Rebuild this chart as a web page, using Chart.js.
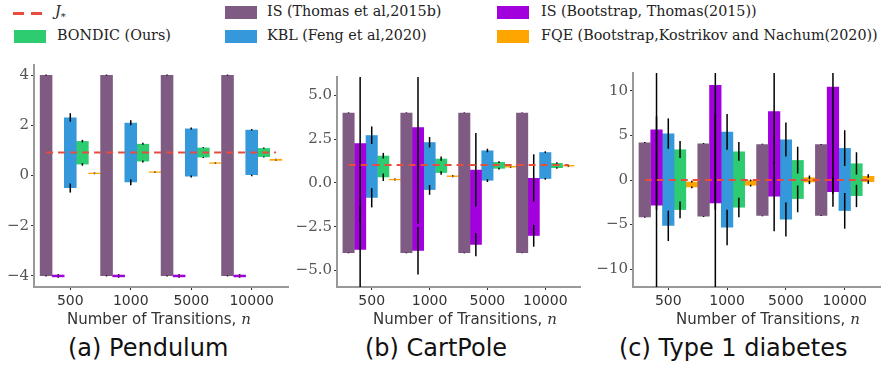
<!DOCTYPE html>
<html>
<head>
<meta charset="utf-8">
<script src="https://cdn.jsdelivr.net/npm/chart.js@4.4.1/dist/chart.umd.min.js"></script>
<style>
  body { margin: 0; background: #fff; }
  #page { position: relative; width: 881px; height: 365px; overflow: hidden; }
  .panel { position: absolute; top: 0; height: 312px; }
  .leg { position: absolute; font-family: "DejaVu Serif", serif; font-size: 14.3px; color: #222; white-space: nowrap; }
  .sw { position: absolute; width: 32px; height: 13px; }
  .dash { position: absolute; width: 11px; height: 3px; background: #e74c3c; }
  .xtitle { position: absolute; top: 310px; font-family: "DejaVu Sans", sans-serif; font-size: 15px; color: #333; white-space: nowrap; }
  .xtitle i { font-family: "DejaVu Serif", serif; }
  .cap { position: absolute; top: 334px; font-family: "DejaVu Sans", sans-serif; font-size: 24px; color: #111; white-space: nowrap; }
</style>
</head>
<body>
<div id="page">
  <!-- legend -->
  <div class="dash" style="left:13px;top:12px"></div>
  <div class="dash" style="left:31px;top:12px"></div>
  <div class="leg" style="left:55px;top:3px"><i>J</i><sub style="font-size:10px">*</sub></div>
  <div class="sw" style="left:14px;top:30px;background:#2ecc71"></div>
  <div class="leg" style="left:57px;top:27px">BONDIC (Ours)</div>

  <div class="sw" style="left:225px;top:6px;background:#7f5b83"></div>
  <div class="leg" style="left:267px;top:3px">IS (Thomas et al,2015b)</div>
  <div class="sw" style="left:225px;top:30px;background:#3498db"></div>
  <div class="leg" style="left:267px;top:27px">KBL (Feng et al,2020)</div>

  <div class="sw" style="left:497px;top:6px;background:#a200dd"></div>
  <div class="leg" style="left:541px;top:3px">IS (Bootstrap, Thomas(2015))</div>
  <div class="sw" style="left:497px;top:30px;background:#ffa500"></div>
  <div class="leg" style="left:541px;top:27px">FQE (Bootstrap,Kostrikov and Nachum(2020))</div>

  <div class="panel" style="left:0;width:295px"><canvas id="pendulum"></canvas></div>
  <div class="panel" style="left:290px;width:295px"><canvas id="cartpole"></canvas></div>
  <div class="panel" style="left:585px;width:296px"><canvas id="diabetes"></canvas></div>

  <div class="xtitle" style="left:67px">Number of Transitions, <i>n</i></div>
  <div class="xtitle" style="left:373px">Number of Transitions, <i>n</i></div>
  <div class="xtitle" style="left:676px">Number of Transitions, <i>n</i></div>

  <div class="cap" style="left:68px">(a) Pendulum</div>
  <div class="cap" style="left:365px">(b) CartPole</div>
  <div class="cap" style="left:619px">(c) Type 1 diabetes</div>
</div>

<script>
const categories = ['500', '1000', '5000', '10000'];
const seriesLabels = ['IS (Thomas et al,2015b)', 'IS (Bootstrap, Thomas(2015))', 'KBL (Feng et al,2020)', 'BONDIC (Ours)', 'FQE (Bootstrap,Kostrikov and Nachum(2020))'];
const seriesColors = ['#7f5b83', '#a200dd', '#3498db', '#2ecc71', '#ffa500'];
const jStarColor = '#e74c3c';

// each bar is [low, high]; each error entry is [half-width at low end, half-width at high end]
// (a) Pendulum
const pendulumTicks = [-4, -2, 0, 2, 4];
const pendulumJ = 0.92;
const pendulumIS = [[-4, 4], [-4, 4], [-4, 4], [-4, 4]];
const pendulumISErr = [[0.02, 0.02], [0.02, 0.02], [0.02, 0.02], [0.02, 0.02]];
const pendulumISBoot = [[-4.05, -3.95], [-4.05, -3.95], [-4.05, -3.95], [-4.05, -3.95]];
const pendulumISBootErr = [[0.02, 0.02], [0.02, 0.02], [0.02, 0.02], [0.02, 0.02]];
const pendulumKBL = [[-0.50, 2.31], [-0.27, 2.10], [-0.04, 1.87], [0.0, 1.82]];
const pendulumKBLErr = [[0.18, 0.17], [0.12, 0.1], [0.04, 0.04], [0.03, 0.03]];
const pendulumBONDIC = [[0.44, 1.37], [0.56, 1.26], [0.72, 1.11], [0.74, 1.09]];
const pendulumBONDICErr = [[0.05, 0.05], [0.04, 0.04], [0.02, 0.02], [0.02, 0.02]];
const pendulumFQE = [[0.06, 0.11], [0.11, 0.16], [0.47, 0.52], [0.59, 0.66]];
const pendulumFQEErr = [[0.01, 0.01], [0.01, 0.01], [0.01, 0.01], [0.01, 0.01]];

// (b) CartPole
const cartpoleTicks = [-5, -2.5, 0, 2.5, 5];
const cartpoleJ = 1.02;
const cartpoleIS = [[-4, 4], [-4, 4], [-4, 4], [-4, 4]];
const cartpoleISErr = [[0.02, 0.02], [0.02, 0.02], [0.02, 0.02], [0.02, 0.02]];
const cartpoleISBoot = [[-3.81, 2.26], [-3.87, 3.17], [-3.53, 0.75], [-3.02, 0.28]];
const cartpoleISBootErr = [[2.5, 4.5], [1.35, 5.5], [0.65, 2.1], [0.62, 1.35]];
const cartpoleKBL = [[-0.85, 2.72], [-0.40, 2.32], [0.13, 1.85], [0.23, 1.75]];
const cartpoleKBLErr = [[0.55, 0.5], [0.28, 0.3], [0.08, 0.1], [0.05, 0.05]];
const cartpoleBONDIC = [[0.32, 1.55], [0.57, 1.38], [0.81, 1.19], [0.85, 1.13]];
const cartpoleBONDICErr = [[0.21, 0.16], [0.1, 0.12], [0.05, 0.05], [0.04, 0.04]];
const cartpoleFQE = [[0.15, 0.23], [0.34, 0.42], [0.88, 0.97], [0.94, 1.02]];
const cartpoleFQEErr = [[0.02, 0.02], [0.02, 0.02], [0.02, 0.02], [0.02, 0.02]];

// (c) Type 1 diabetes
const diabetesTicks = [-10, -5, 0, 5, 10];
const diabetesJ = 0.0;
const diabetesIS = [[-4.17, 4.21], [-4.1, 4.1], [-4.02, 4.02], [-4.0, 4.0]];
const diabetesISErr = [[0.05, 0.05], [0.05, 0.05], [0.05, 0.05], [0.05, 0.05]];
const diabetesISBoot = [[-2.87, 5.66], [-2.6, 10.65], [-1.86, 7.71], [-1.34, 10.47]];
const diabetesISBootErr = [[10, 9], [10, 14], [3.9, 6], [1.65, 12]];
const diabetesKBL = [[-5.14, 5.21], [-5.33, 5.4], [-4.43, 4.54], [-3.46, 3.58]];
const diabetesKBLErr = [[1.7, 1.7], [2, 2], [1.9, 1.9], [2, 2]];
const diabetesBONDIC = [[-3.35, 3.43], [-3.09, 3.2], [-2.12, 2.23], [-1.79, 1.86]];
const diabetesBONDICErr = [[0.95, 0.95], [1.1, 1.05], [1.5, 1.5], [1.25, 1.25]];
const diabetesFQE = [[-0.82, -0.19], [-0.63, -0.05], [-0.26, 0.3], [-0.22, 0.45]];
const diabetesFQEErr = [[0.1, 0.1], [0.1, 0.1], [0.2, 0.2], [0.2, 0.2]];

// draws the black error lines at both ends of every bar
const errorBars = {
    id: 'errorBars',
    afterDatasetDraw(chart, args) {
        const ds = chart.data.datasets[args.index];
        if (!ds.err) return;
        const y = chart.scales.y;
        const area = chart.chartArea;
        const ctx = chart.ctx;
        ctx.save();
        ctx.beginPath();
        ctx.rect(area.left, area.top, area.right - area.left, area.bottom - area.top);
        ctx.clip();
        ctx.strokeStyle = '#000';
        ctx.lineWidth = 1.5;
        args.meta.data.forEach((bar, i) => {
            const [lo, hi] = ds.data[i].y;
            const [eLo, eHi] = ds.err[i];
            [[lo, eLo], [hi, eHi]].forEach(([v, e]) => {
                ctx.beginPath();
                ctx.moveTo(bar.x, y.getPixelForValue(v - e));
                ctx.lineTo(bar.x, y.getPixelForValue(v + e));
                ctx.stroke();
            });
        });
        ctx.restore();
    }
};

function fmtMinus(s) {
    return s.replace('-', '\u2212');
}

function makeChart(id, cfg) {
    const barSets = cfg.series.map((rows, k) => ({
        type: 'bar',
        label: seriesLabels[k],
        data: rows.map((r, i) => ({ x: i, y: r })),
        err: cfg.errors[k],
        backgroundColor: seriesColors[k],
        borderWidth: 0,
        categoryPercentage: 1.0,
        barPercentage: 1.04,
        order: 1
    }));
    const jLine = {
        type: 'line',
        label: 'J*',
        data: [{ x: -0.4, y: cfg.j }, { x: categories.length - 0.6, y: cfg.j }],
        borderColor: jStarColor,
        borderWidth: 2,
        borderDash: [7, 5],
        pointRadius: 0,
        order: 0
    };
    new Chart(document.getElementById(id), {
        type: 'bar',
        data: { datasets: [...barSets, jLine] },
        options: {
            responsive: true,
            maintainAspectRatio: false,
            animation: false,
            layout: { padding: { top: cfg.top, right: cfg.right, left: 0, bottom: 0 } },
            plugins: { legend: { display: false }, tooltip: { enabled: false } },
            scales: {
                x: {
                    type: 'linear',
                    min: -0.6,
                    max: categories.length - 0.4,
                    offset: false,
                    afterBuildTicks: s => { s.ticks = categories.map((c, i) => ({ value: i })); },
                    afterFit: s => { s.height = 25; },
                    grid: { display: true, drawOnChartArea: false, tickLength: 3, color: '#333', offset: false },
                    border: { display: true, color: '#999', width: 2 },
                    ticks: {
                        callback: v => categories[v],
                        padding: 3,
                        maxRotation: 0,
                        color: '#333',
                        font: { family: 'DejaVu Sans', size: 14 }
                    }
                },
                y: {
                    min: cfg.min,
                    max: cfg.max,
                    afterBuildTicks: s => { s.ticks = cfg.ticks.map(v => ({ value: v })); },
                    afterFit: s => { s.width = cfg.axisWidth; },
                    grid: { display: true, drawOnChartArea: false, tickLength: 3, color: '#333' },
                    border: { display: true, color: '#999', width: 2 },
                    ticks: {
                        callback: cfg.fmt,
                        padding: 2,
                        color: '#555',
                        font: { family: 'DejaVu Serif', size: 15 }
                    }
                }
            }
        },
        plugins: [errorBars]
    });
}

makeChart('pendulum', {
    series: [pendulumIS, pendulumISBoot, pendulumKBL, pendulumBONDIC, pendulumFQE],
    errors: [pendulumISErr, pendulumISBootErr, pendulumKBLErr, pendulumBONDICErr, pendulumFQEErr],
    j: pendulumJ, ticks: pendulumTicks, min: -4.44, max: 4.4,
    top: 65, right: 7, axisWidth: 34,
    fmt: v => fmtMinus(String(v))
});
makeChart('cartpole', {
    series: [cartpoleIS, cartpoleISBoot, cartpoleKBL, cartpoleBONDIC, cartpoleFQE],
    errors: [cartpoleISErr, cartpoleISBootErr, cartpoleKBLErr, cartpoleBONDICErr, cartpoleFQEErr],
    j: cartpoleJ, ticks: cartpoleTicks, min: -5.94, max: 6.04,
    top: 77, right: 5, axisWidth: 47,
    fmt: v => fmtMinus(v.toFixed(1))
});
makeChart('diabetes', {
    series: [diabetesIS, diabetesISBoot, diabetesKBL, diabetesBONDIC, diabetesFQE],
    errors: [diabetesISErr, diabetesISBootErr, diabetesKBLErr, diabetesBONDICErr, diabetesFQEErr],
    j: diabetesJ, ticks: diabetesTicks, min: -12, max: 12,
    top: 73, right: 1, axisWidth: 48,
    fmt: v => fmtMinus(String(v))
});
</script>
</body>
</html>
